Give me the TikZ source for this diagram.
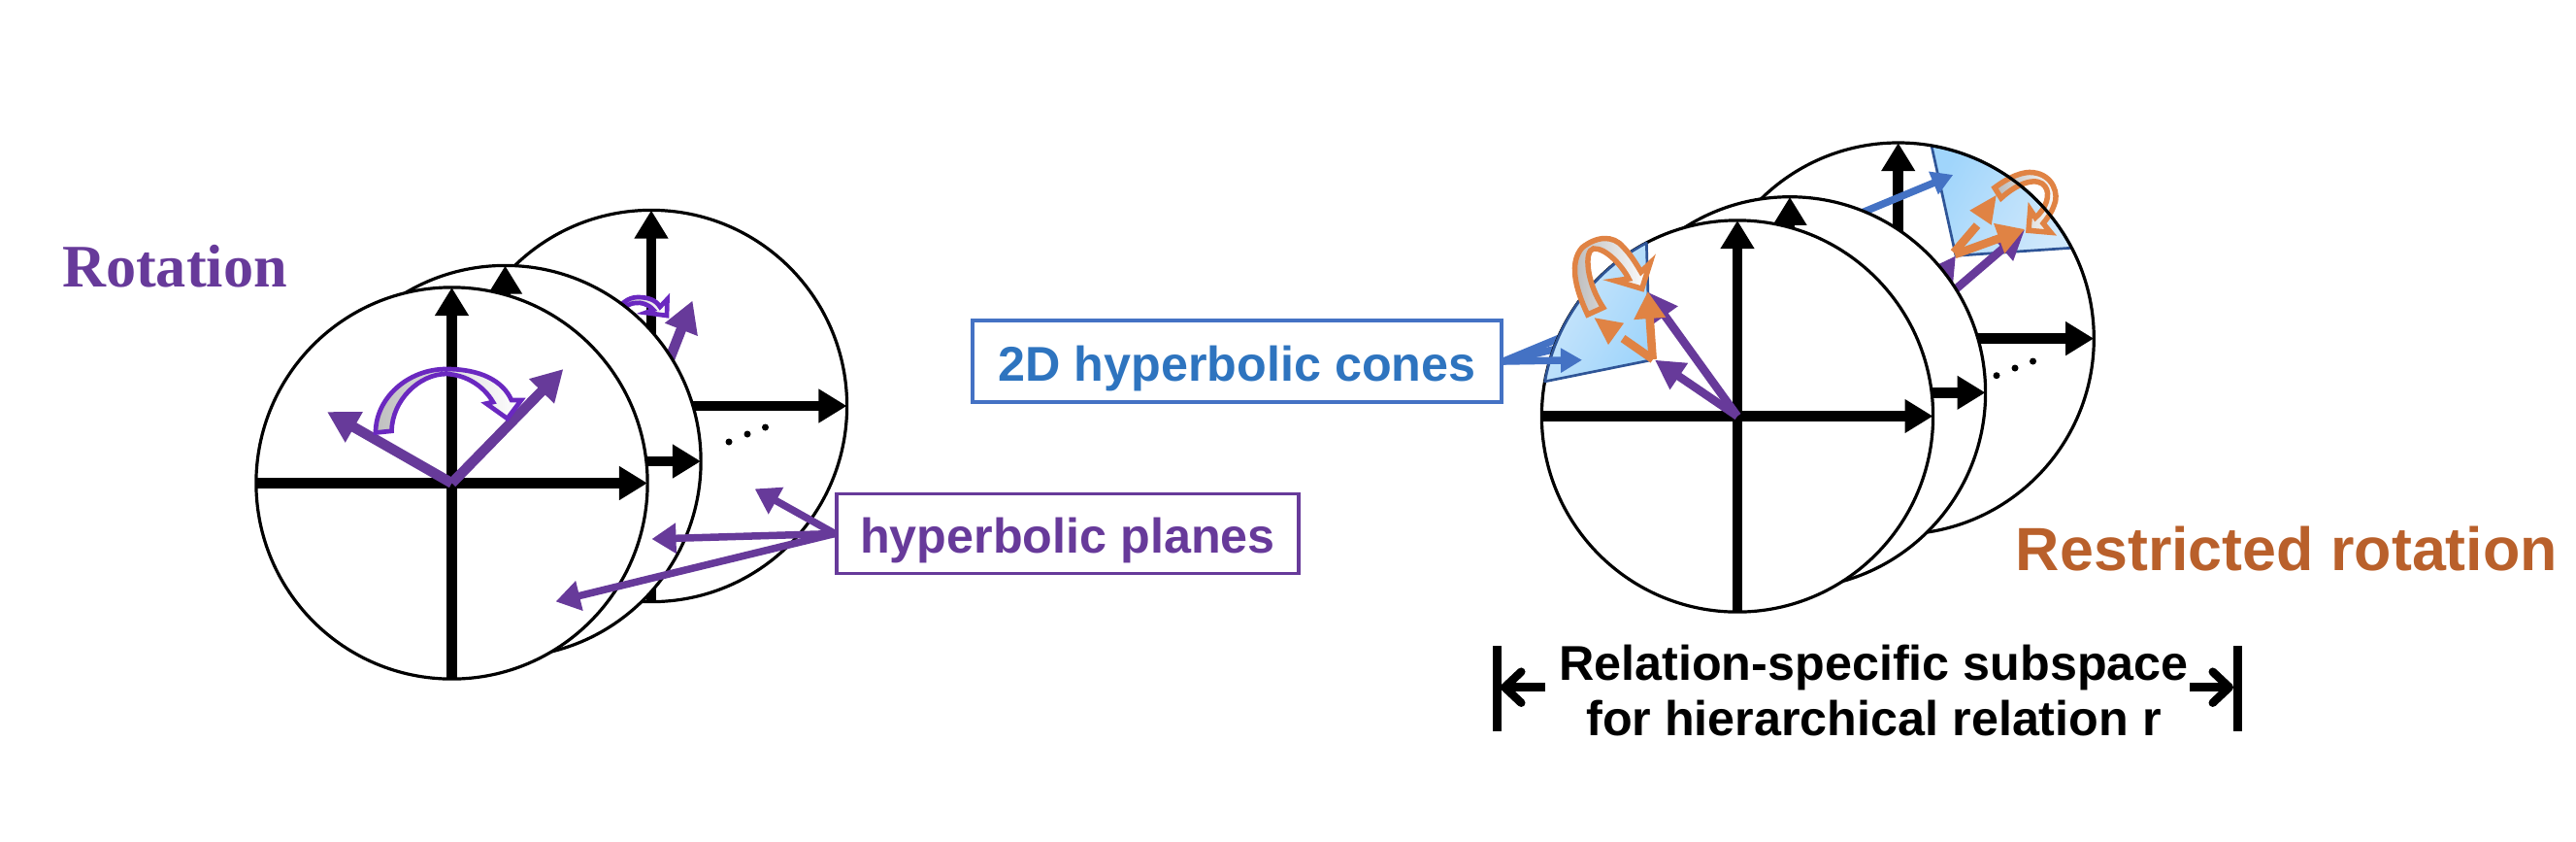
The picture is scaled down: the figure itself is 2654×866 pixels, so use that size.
\documentclass[tikz,border=0pt]{standalone}
\usepackage{fontspec}
\setmainfont{Liberation Sans}
\newfontfamily\serifbold{Liberation Serif}
\usetikzlibrary{arrows.meta}
\definecolor{hpurple}{HTML}{673A9A}
\definecolor{rotpurple}{HTML}{6A28C0}
\definecolor{cblue}{HTML}{4472C4}
\definecolor{ctext}{HTML}{2E74BF}
\definecolor{conedge}{HTML}{2F5597}
\definecolor{orangeA}{HTML}{E08344}
\definecolor{orangeT}{HTML}{B9602B}
\definecolor{coneA}{HTML}{A0D5FB}
\definecolor{coneB}{HTML}{D0E8FB}
\tikzset{
  disc/.style={draw=black,line width=0.032cm},
  axis/.style={line width=0.105cm,draw=black,-{Triangle[length=0.29cm,width=0.33cm]}},
  vecp/.style={line width=0.105cm,draw=hpurple,-{Triangle[length=0.32cm,width=0.34cm]}},
  vecs/.style={line width=0.085cm,draw=hpurple,-{Triangle[length=0.3cm,width=0.31cm]}},
  labp/.style={line width=0.075cm,draw=hpurple,-{Triangle[length=0.25cm,width=0.3cm]}},
  labb/.style={line width=0.075cm,draw=cblue,-{Triangle[length=0.22cm,width=0.24cm]}},
  veco/.style={line width=0.085cm,draw=orangeA,-{Triangle[length=0.28cm,width=0.31cm]}},
  stub/.style={line width=0.085cm,draw=orangeA},
  rotp/.style={draw=rotpurple,line width=0.047cm,line join=miter,left color=gray!50,middle color=white,right color=white},
  roto/.style={draw=orangeA,line width=0.055cm,line join=miter,left color=gray!55,middle color=gray!15,right color=white},
  conefill/.style={draw=conedge,line width=0.027cm,line join=round},
  boxtext/.style={font=\fontsize{14.3pt}{17pt}\selectfont\bfseries,inner sep=0pt,text height=0.45cm,text depth=0.05cm},
  dimline/.style={line width=0.09cm,draw=black},
  dimarrow/.style={line width=0.085cm,draw=black,-{Straight Barb[length=0.17cm,width=0.32cm,line cap=round,round]}}
}
\newcommand\discfill[1]{%
  \fill[white] (#1) circle[radius=2.015cm];
  \draw[axis] (#1) ++(-201.5,0) -- ++(403,0);
  \draw[axis] (#1) ++(0,201.5) -- ++(0,-403);
}
\newcommand\discedge[1]{\draw[disc] (#1) circle[radius=2.015cm];}
\begin{document}
\begin{tikzpicture}[x=0.01cm,y=-0.01cm]
\useasboundingbox (0,0) rectangle (2654,866);
\coordinate (LB) at (671,418);
\coordinate (LM) at (520.5,475);
\coordinate (LF) at (465.5,497.5);
\coordinate (RB) at (1955.7,348.6);
\coordinate (RM) at (1844,404.3);
\coordinate (RF) at (1790,428.5);

% ---------- left group ----------
\discfill{LB}
\draw[vecp] (LB) -- (713.5,309.5) coordinate (lbtip);
\filldraw[rotp] (630,328) .. controls (638,312) and (648,306) .. (657,306) .. controls (668,306) and (676,309) .. (680,316) -- (687.5,308) -- (687,325) -- (665,322) -- (673,319) .. controls (668,313) and (660,311) .. (655,312) .. controls (648,312) and (640,318) .. (636,328) -- cycle;
\fill (751,455) circle[radius=0.035cm] (770,447) circle[radius=0.035cm] (788.5,440) circle[radius=0.035cm];
\discedge{LB}
\discfill{LM}
\discedge{LM}
\discfill{LF}
\discedge{LF}
\draw[vecp] (LF) -- (580.4,380) coordinate (lfa);
\draw[vecp] (LF) -- (337,424) coordinate (lfb);
\filldraw[rotp] (387,445.5) .. controls (387,410) and (420,380) .. (460,380) .. controls (495,380) and (518,392) .. (527,412) -- (537,412) -- (522.7,431) -- (501,415.5) -- (508,414) .. controls (498,397) and (480,386) .. (460,385) .. controls (432,385) and (404,412) .. (403.5,443.8) -- cycle;

\node[boxtext,draw=hpurple,line width=0.035cm,text=hpurple,minimum width=4.76cm,minimum height=0.815cm] (hp) at (1100,549.5) {hyperbolic planes};
\coordinate (hpa) at (777.7,503.4);
\coordinate (hpb) at (671.5,555);
\coordinate (hpc) at (572.6,619.4);
\draw[labp] (hp.west) -- (hpa);
\draw[labp] (hp.west) -- (hpb);
\draw[labp] (hp.west) -- (hpc);

\node[inner sep=0pt,anchor=base,text=hpurple,font=\fontsize{17.7pt}{20pt}\selectfont\serifbold\bfseries] (rot) at (180,295) {Rotation};

% ---------- right group ----------
\node[boxtext,draw=cblue,line width=0.04cm,text=ctext,minimum width=5.45cm,minimum height=0.84cm] (cones) at (1274.5,372) {2D hyperbolic cones};
\coordinate (bta) at (2012.3,180);
\coordinate (btm) at (1760,322);
\coordinate (btf) at (1630,370.7);

\discfill{RB}
\shade[left color=coneA,right color=coneB,shading angle=60] plot[domain=80.2:27.6,samples=25] ({1955.7+201.5*cos(\x)},{348.6-201.5*sin(\x)}) -- (2015,263.3) -- cycle;
\draw[conefill] plot[domain=80.2:27.6,samples=25] ({1955.7+201.5*cos(\x)},{348.6-201.5*sin(\x)}) -- (2015,263.3) -- cycle;
\draw[vecs] (RB) -- (2015,263.3);
\draw[vecs] (RB) -- (2086,236.7);
\draw[labb] (cones.east) -- (bta);
\draw[veco] (2014,262) -- (2086,236);
\draw[stub] (2013,260) -- (2037,232);
\fill[orangeA] (2029.3,216.7) -- (2056.7,201) -- (2051.7,231.7) -- cycle;
\filldraw[roto] (2055,193.3) .. controls (2070,182) and (2085,176) .. (2095,177.7) .. controls (2115,180) and (2122,200) .. (2116,212) .. controls (2113,220) and (2109,225) .. (2105,230) -- (2112.7,239.3) -- (2090,237.3) -- (2091.7,216) -- (2097,224) .. controls (2108,215) and (2113,200) .. (2107,192) .. controls (2100,182) and (2080,187) .. (2061.7,204) -- cycle;
\fill (2057,386.7) circle[radius=0.035cm] (2076,379) circle[radius=0.035cm] (2094.5,372) circle[radius=0.035cm];
\discedge{RB}
\discfill{RM}
\draw[labb] (cones.east) -- (btm);
\discedge{RM}
\discfill{RF}
\discedge{RF}
\shade[left color=coneB,right color=coneA,shading angle=60] plot[domain=169.8:117.7,samples=25] ({1790+201.5*cos(\x)},{428.5-201.5*sin(\x)}) -- (1700,371) -- cycle;
\draw[conefill] plot[domain=169.8:117.7,samples=25] ({1790+201.5*cos(\x)},{428.5-201.5*sin(\x)}) -- (1700,371) -- cycle;
\draw[vecs] (RF) -- (1697.7,300.7);
\draw[vecs] (RF) -- (1705,370.7);
\draw[labb] (cones.east) -- (btf);
\draw[veco] (1702.7,370) -- (1697.7,300);
\draw[stub] (1703,370) -- (1672,348.5);
\fill[orangeA] (1642.7,327.3) -- (1673,332.7) -- (1657,355) -- cycle;
\filldraw[roto] (1635.7,324) .. controls (1622,295) and (1617,270) .. (1630,255) .. controls (1645,243) and (1662,242) .. (1672,254) .. controls (1680,262) and (1686,272) .. (1690.7,280) -- (1700,271) -- (1691.7,297.3) -- (1664,289) -- (1678,287) .. controls (1672,275) and (1655,255) .. (1641.7,256) .. controls (1632,258) and (1634,290) .. (1651.7,316.7) -- cycle;

\node[inner sep=0pt,anchor=base,text=orangeT,font=\fontsize{17.85pt}{20pt}\selectfont\bfseries] (rr) at (2356,587.7) {Restricted rotation};

\node[inner sep=0pt,align=center,font=\fontsize{14.3pt}{16.1pt}\selectfont\bfseries] (sub) at (1930.5,711) {Relation-specific subspace\\for hierarchical relation r};
\coordinate (bl1) at (1542,665);
\coordinate (bl2) at (1542,753);
\coordinate (br1) at (2305,665);
\coordinate (br2) at (2305,753);
\coordinate (al) at (1546,707.7);
\coordinate (ar) at (2301,707.7);
\coordinate (as) at (1592,707.7);
\coordinate (ae) at (2256,707.7);
\draw[dimline] (bl1) -- (bl2);
\draw[dimline] (br1) -- (br2);
\draw[dimarrow] (as) -- (al);
\draw[dimarrow] (ae) -- (ar);
\end{tikzpicture}
\end{document}
